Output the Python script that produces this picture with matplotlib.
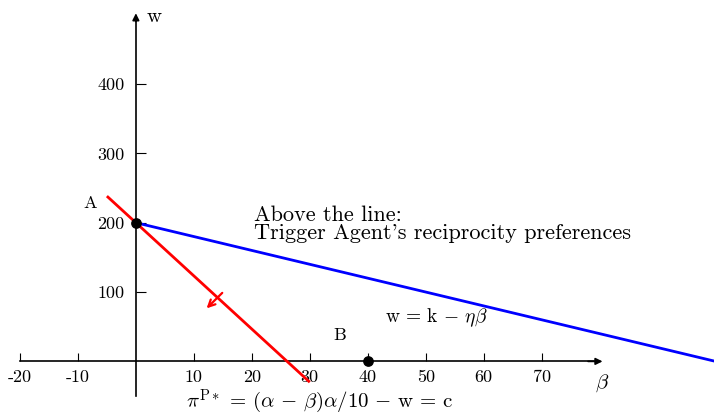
import matplotlib
matplotlib.use("Agg")
import matplotlib.pyplot as plt
import numpy as np

plt.rcParams['font.family'] = ['cmr10', 'DejaVu Serif']
plt.rcParams['mathtext.fontset'] = 'cm'
plt.rcParams['axes.unicode_minus'] = False

# data
x_ticks = [-20, -10, 10, 20, 30, 40, 50, 60, 70]
x_tick_labels = ['-20', '-10', '10', '20', '30', '40', '50', '60', '70']
y_ticks = [100, 200, 300, 400]
y_tick_labels = ['100', '200', '300', '400']

blue_beta = [0, 100]
blue_w = [200, 0]
red_beta = [-5, 30]
red_w = [238.3, -30]
points_beta = [0, 40]
points_w = [200, 0]
point_labels = ['A', 'B']

fig = plt.figure(figsize=(7.14, 4.15), dpi=100)
ax = fig.add_axes([0, 0, 1, 1])
ax.set_xlim(-23.44, 99.73)
ax.set_ylim(-77.3, 521.1)

for s in ['top', 'right']:
    ax.spines[s].set_visible(False)
ax.spines['bottom'].set_position(('data', 0))
ax.spines['left'].set_position(('data', 0))
ax.spines['bottom'].set_bounds(-20, 79)
ax.spines['left'].set_bounds(-50, 497)
ax.spines['bottom'].set_linewidth(1.2)
ax.spines['left'].set_linewidth(1.2)

ax.set_xticks(x_ticks)
ax.set_xticklabels(x_tick_labels)
ax.set_yticks(y_ticks)
ax.set_yticklabels(y_tick_labels)
ax.tick_params(axis='x', direction='in', length=6, width=0.8, labelsize=13, pad=6)
ax.tick_params(axis='y', direction='in', length=7, width=0.8, labelsize=13, pad=8)

# arrow heads of axes
ax.annotate('', xy=(80.5, 0), xytext=(78, 0),
            arrowprops=dict(arrowstyle='-|>', color='black', lw=1.2,
                            mutation_scale=10, shrinkA=0, shrinkB=0))
ax.annotate('', xy=(0, 502), xytext=(0, 490),
            arrowprops=dict(arrowstyle='-|>', color='black', lw=1.2,
                            mutation_scale=10, shrinkA=0, shrinkB=0))

ax.plot(blue_beta, blue_w, color='#0000ff', lw=2.0, solid_capstyle='butt', zorder=3)
ax.plot(red_beta, red_w, color='#ff0000', lw=2.0, solid_capstyle='butt', zorder=3)

# small arrow on the red line
ax.annotate('', xy=(12.2, 76.5), xytext=(14.9, 98.8),
            arrowprops=dict(arrowstyle='->', color='#ff0000', lw=1.6,
                            mutation_scale=12, shrinkA=0, shrinkB=0), zorder=3)

ax.scatter(points_beta, points_w, s=45, color='black', zorder=5)
ax.text(-7.9, 228, point_labels[0], fontsize=13, ha='center', va='center')
ax.text(35.2, 37, point_labels[1], fontsize=13, ha='center', va='center')

ax.text(20.3, 203, "Above the line:", fontsize=16, ha='left', va='baseline')
ax.text(20.3, 177, "Trigger Agent's reciprocity preferences",
        fontsize=16, ha='left', va='baseline')
ax.text(42.9, 57, r'$\mathrm{w} \,=\, \mathrm{k} \,-\, \eta\beta$', fontsize=14,
        ha='left', va='baseline')
ax.text(8.6, -67, r'$\pi^{\mathrm{P}*} \,=\, (\alpha \,-\, \beta)\alpha/10 \,-\, \mathrm{w} \,=\, \mathrm{c}$',
        fontsize=15, ha='left', va='baseline')

ax.text(3.1, 497, 'w', fontsize=15, ha='center', va='center')
ax.text(80.5, -31, r'$\beta$', fontsize=15, ha='center', va='center')

fig.savefig('out.png', dpi=100)
